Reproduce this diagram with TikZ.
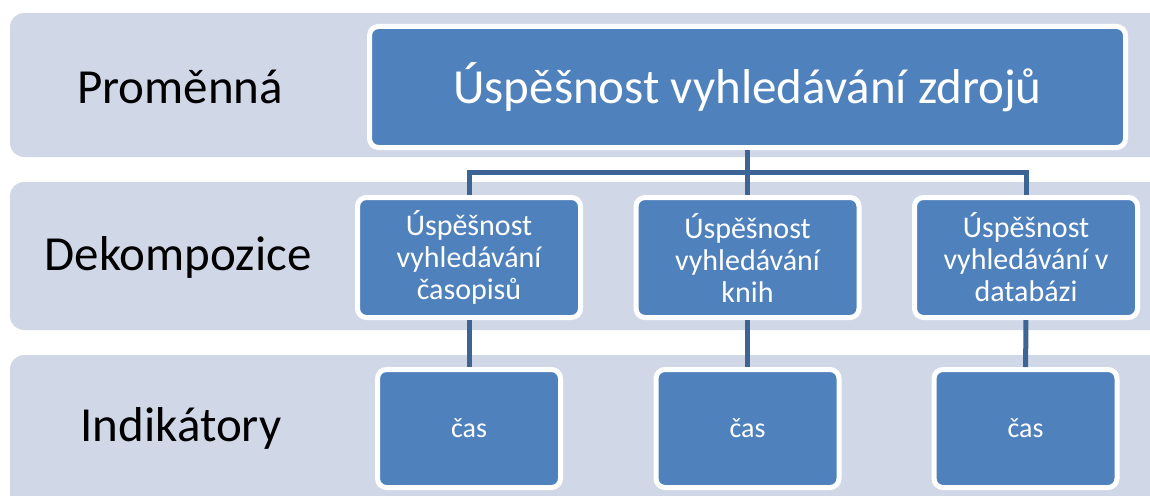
\documentclass[tikz,border=0pt]{standalone}
\usepackage{fontspec}
\setmainfont{Carlito}
\definecolor{bandgray}{RGB}{208,216,232}
\definecolor{boxblue}{RGB}{79,129,189}
\definecolor{linkblue}{RGB}{60,100,148}
\begin{document}
\begin{tikzpicture}[x=1pt,y=-1pt]
\tikzstyle{band}=[rounded corners=14pt,fill=bandgray]
\tikzstyle{lbl}=[inner sep=0pt,font=\fontsize{49}{58}\selectfont]
\tikzstyle{box}=[rectangle,rounded corners=9pt,fill=boxblue,draw=white,line width=5pt,inner sep=0pt,text=white,align=center]
\tikzstyle{link}=[draw=linkblue,line width=5pt]

\useasboundingbox (0,0) rectangle (1150,495);

\fill[band] (10,13) rectangle (1170,157);
\fill[band] (10,182) rectangle (1170,330);
\fill[band] (10,355) rectangle (1170,515);

\node[lbl] (promenna) at (180,87) {Proměnná};
\node[lbl] (dekompozice) at (178,257) {Dekompozice};
\node[lbl] (indikatory) at (181,428) {Indikátory};

\node[box,minimum width=756pt,minimum height=121pt,font=\fontsize{49}{58}\selectfont] (zdroje) at (747.5,87) {Úspěšnost vyhledávání zdrojů};

\tikzstyle{box}+=[minimum width=223pt,minimum height=120pt,font=\fontsize{30}{32}\selectfont]
\node[box] (casopisy) at (469,257.5) {Úspěšnost\\vyhledávání\\časopisů};
\node[box] (knihy) at (747.5,257.5) {Úspěšnost\\vyhledávání\\knih};
\node[box] (databaze) at (1026,257.5) {Úspěšnost\\vyhledávání v\\databázi};

\tikzstyle{box}+=[minimum width=183pt,minimum height=118pt,font=\fontsize{28}{33}\selectfont]
\node[box] (cas1) at (469,428.5) {čas};
\node[box] (cas2) at (747.5,428.5) {čas};
\node[box] (cas3) at (1025.5,428.5) {čas};

\coordinate (bus) at (747.5,172);
\draw[link] (zdroje) -- (bus);
\draw[link] (bus) -| (casopisy);
\draw[link] (bus) -- (knihy);
\draw[link] (bus) -| (databaze);

\draw[link] (casopisy) -- (cas1);
\draw[link] (knihy) -- (cas2);
\draw[link] (databaze) -- (cas3);

\end{tikzpicture}
\end{document}
